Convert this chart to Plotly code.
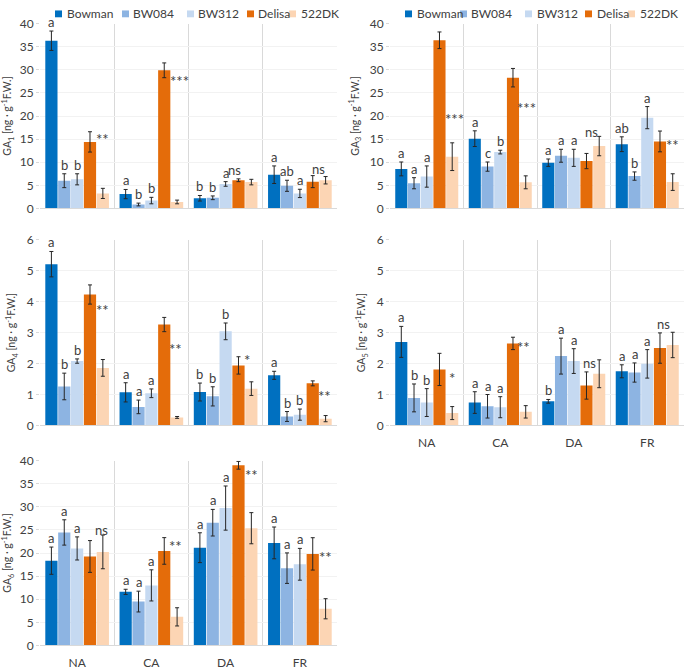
import plotly.graph_objects as go

W, H = 685, 672

categories = ["NA", "CA", "DA", "FR"]
cultivars = ["Bowman", "BW084", "BW312", "Delisa", "522DK"]
colors = ["#0070C0", "#8DB4E2", "#C5D9F1", "#E46C0A", "#FCD5B4"]

# ---- GA1 ----
GA1_mean = {"Bowman": [36.3, 3.1, 2.2, 7.3], "BW084": [6.0, 0.85, 2.3, 4.9],
            "BW312": [6.3, 1.7, 5.3, 3.25], "Delisa": [14.4, 29.9, 6.1, 5.8],
            "522DK": [3.25, 1.4, 5.7, 6.1]}
GA1_err = {"Bowman": [2.1, 1.0, 0.6, 1.9], "BW084": [1.5, 0.3, 0.4, 1.2],
           "BW312": [1.2, 0.7, 0.5, 0.9], "Delisa": [2.2, 1.6, 0.3, 1.3],
           "522DK": [1.1, 0.4, 0.6, 0.8]}
GA1_letters = [["a", "b", "b"], ["a", "b", "b"], ["b", "b", "a"], ["a", "ab", "a"]]
GA1_sig = ["**", "***", "ns", "ns"]
GA1_sig_pos = [4.0, 4.2, 2.7, 3.45]
GA1_sig_y = [15.6, 28.2, 8.05, 8.4]

# ---- GA3 ----
GA3_mean = {"Bowman": [8.55, 15.1, 9.9, 13.9], "BW084": [5.45, 9.05, 11.4, 7.0],
            "BW312": [6.9, 12.2, 10.95, 19.65], "Delisa": [36.4, 28.3, 10.25, 14.5],
            "522DK": [11.2, 5.65, 13.5, 5.7]}
GA3_err = {"Bowman": [1.5, 1.7, 0.8, 1.6], "BW084": [1.2, 1.0, 1.4, 0.9],
           "BW312": [2.3, 0.4, 1.85, 2.4], "Delisa": [1.8, 2.0, 1.65, 2.25],
           "522DK": [3.0, 1.4, 2.1, 1.8]}
GA3_letters = [["a", "a", "a"], ["a", "c", "b"], ["a", "a", "a"], ["ab", "b", "a"]]
GA3_sig = ["***", "***", "ns", "**"]
GA3_sig_pos = [4.2, 4.1, 3.4, 4.0]
GA3_sig_y = [20.1, 22.3, 16.3, 14.4]

# ---- GA4 ----
GA4_mean = {"Bowman": [5.21, 1.07, 1.08, 1.62], "BW084": [1.26, 0.6, 0.94, 0.29],
            "BW312": [2.08, 1.04, 3.04, 0.35], "Delisa": [4.23, 3.26, 1.94, 1.36],
            "522DK": [1.86, 0.26, 1.19, 0.22]}
GA4_err = {"Bowman": [0.41, 0.31, 0.29, 0.13], "BW084": [0.43, 0.22, 0.31, 0.16],
           "BW312": [0.07, 0.14, 0.27, 0.18], "Delisa": [0.31, 0.23, 0.28, 0.08],
           "522DK": [0.27, 0.03, 0.22, 0.1]}
GA4_letters = [["a", "b", "b"], ["a", "a", "a"], ["b", "b", "b"], ["a", "b", "b"]]
GA4_sig = ["**", "**", "*", "**"]
GA4_sig_pos = [4.0, 3.9, 3.7, 3.9]
GA4_sig_y = [3.83, 2.57, 2.2, 1.06]

# ---- GA5 ----
GA5_mean = {"Bowman": [2.70, 0.74, 0.78, 1.75], "BW084": [0.89, 0.62, 2.24, 1.71],
            "BW312": [0.74, 0.59, 2.08, 1.99], "Delisa": [1.81, 2.65, 1.29, 2.5],
            "522DK": [0.40, 0.44, 1.67, 2.6]}
GA5_err = {"Bowman": [0.5, 0.35, 0.06, 0.21], "BW084": [0.45, 0.38, 0.58, 0.31],
           "BW312": [0.45, 0.34, 0.4, 0.46], "Delisa": [0.52, 0.2, 0.44, 0.49],
           "522DK": [0.21, 0.2, 0.45, 0.41]}
GA5_letters = [["a", "b", "b"], ["a", "a", "a"], ["b", "a", "a"], ["a", "a", "a"]]
GA5_sig = ["*", "**", "ns", "ns"]
GA5_sig_pos = [4.0, 3.8, 3.2, 3.25]
GA5_sig_y = [1.62, 2.64, 1.99, 3.25]

# ---- GA6 ----
GA6_mean = {"Bowman": [18.35, 11.6, 21.16, 22.2], "BW084": [24.46, 9.5, 26.57, 16.73],
            "BW312": [21.0, 13.0, 29.74, 17.57], "Delisa": [19.26, 20.46, 39.0, 19.82],
            "522DK": [20.25, 6.19, 25.38, 7.94]}
GA6_err = {"Bowman": [2.95, 0.56, 3.23, 3.44], "BW084": [2.74, 2.25, 2.88, 3.3],
           "BW312": [2.5, 3.37, 4.78, 3.44], "Delisa": [3.44, 2.88, 0.84, 3.5],
           "522DK": [3.65, 1.97, 3.37, 2.18]}
GA6_letters = [["a", "a", "a"], ["a", "a", "a"], ["a", "a", "a"], ["a", "a", "a"]]
GA6_sig = ["ns", "**", "**", "**"]
GA6_sig_pos = [3.9, 3.9, 4.0, 4.0]
GA6_sig_y = [24.75, 22.1, 37.5, 19.7]

panels = [
    ("1", GA1_mean, GA1_err, GA1_letters, GA1_sig, GA1_sig_pos, GA1_sig_y, 40, 5),
    ("3", GA3_mean, GA3_err, GA3_letters, GA3_sig, GA3_sig_pos, GA3_sig_y, 40, 5),
    ("4", GA4_mean, GA4_err, GA4_letters, GA4_sig, GA4_sig_pos, GA4_sig_y, 6, 1),
    ("5", GA5_mean, GA5_err, GA5_letters, GA5_sig, GA5_sig_pos, GA5_sig_y, 6, 1),
    ("6", GA6_mean, GA6_err, GA6_letters, GA6_sig, GA6_sig_pos, GA6_sig_y, 40, 5),
]

# panel boxes in pixels: (x0, x1, y0_top, y1_bottom)
boxes = [(40, 337, 16, 205), (390, 684, 16, 205), (40, 337, 237, 427),
         (390, 684, 237, 427), (40, 337, 463, 652)]
show_xlabels = [False, False, False, True, True]

FONT = "Lato, 'Open Sans', sans-serif"
BARGAP = 0.134
GROUPGAP = 0.05

fig = go.Figure()
annotations = []
shapes = []

for p, (sub, mean, err, letters, sig, sig_pos, sig_y, ymax, dtick) in enumerate(panels):
    ax = "" if p == 0 else str(p + 1)
    for ci, cv in enumerate(cultivars):
        fig.add_trace(go.Bar(
            x=categories, y=mean[cv], name=cv,
            marker=dict(color=colors[ci], line=dict(width=0)),
            error_y=dict(type="data", array=err[cv], color="#262626",
                         thickness=1, width=2),
            xaxis="x" + ax, yaxis="y" + ax, showlegend=False,
            hoverinfo="x+y+name"))
    x0, x1, yt, yb = boxes[p]
    cat_w = (x1 - x0) / len(categories)
    bar_w = cat_w * (1 - BARGAP) / len(cultivars)
    # letters above first three bars
    for k, cat in enumerate(categories):
        for ci, lt in enumerate(letters[k]):
            cv = cultivars[ci]
            annotations.append(dict(
                x=cat, y=mean[cv][k] + err[cv][k], xref="x" + ax, yref="y" + ax,
                text=lt, showarrow=False, yanchor="bottom", yshift=-1,
                xshift=(ci - 2) * bar_w,
                font=dict(family=FONT, size=13, color="#404040")))
        s = sig[k]
        star = "*" in s
        annotations.append(dict(
            x=cat, y=sig_y[k], xref="x" + ax, yref="y" + ax, text=s,
            showarrow=False, yanchor="middle",
            yshift=(-3 if star else 1),
            xshift=(sig_pos[k] - 2) * bar_w,
            font=dict(family=FONT, size=(15 if star else 13), color="#404040")))

    xa = dict(domain=[x0 / W, x1 / W], anchor="y" + ax, type="category",
              categoryorder="array", categoryarray=categories,
              showgrid=True, gridcolor="#D9D9D9", gridwidth=1,
              tickson="boundaries", ticks="", showline=True,
              linecolor="#D9D9D9", linewidth=1,
              showticklabels=show_xlabels[p], ticklabelstandoff=6,
              tickfont=dict(family=FONT, size=12, color="#404040"),
              zeroline=False, fixedrange=True)
    ya = dict(domain=[1 - yb / H, 1 - yt / H], anchor="x" + ax,
              range=[0, ymax], tickmode="linear", tick0=0, dtick=dtick,
              showgrid=True, gridcolor="#F2F2F2", gridwidth=1,
              zeroline=False, showline=False,
              ticks="outside", ticklen=3, tickcolor="#D9D9D9",
              tickfont=dict(family=FONT, size=12, color="#404040"),
              title=dict(text="GA<sub>" + sub + "</sub> [ng · g<sup>-1</sup>F.W.]",
                         font=dict(family=FONT, size=10.5, color="#404040"),
                         standoff=8),
              fixedrange=True)
    fig.update_layout(**{"xaxis" + ax: xa, "yaxis" + ax: ya})

# legends above the two top panels (drawn as text + swatches)
legend_sets = [([55, 122, 187, 247, 289], [65, 131, 196, 256, 299]),
               ([405, 460, 525, 585, 628], [415, 469, 535, 595, 638])]
LEG_Y = 6
for sq_x, tx_x in legend_sets:
    for ci, cv in enumerate(cultivars):
        shapes.append(dict(type="rect", xref="paper", yref="paper",
                           x0=sq_x[ci] / W, x1=(sq_x[ci] + 7) / W,
                           y0=1 - (LEG_Y + 3.5) / H, y1=1 - (LEG_Y - 3.5) / H,
                           fillcolor=colors[ci], line=dict(width=0)))
        annotations.append(dict(x=tx_x[ci] / W, y=1 - LEG_Y / H, xref="paper",
                                yref="paper", text=cv, showarrow=False,
                                xanchor="left", yanchor="middle",
                                font=dict(family=FONT, size=12, color="#404040")))

fig.update_layout(
    width=W, height=H, margin=dict(l=0, r=0, t=0, b=0),
    paper_bgcolor="white", plot_bgcolor="white",
    barmode="group", bargap=BARGAP, bargroupgap=GROUPGAP,
    annotations=annotations, shapes=shapes, showlegend=False,
    font=dict(family=FONT, color="#404040"),
)

fig.write_html("out.html", config={"displayModeBar": False},
               post_script="document.body.style.margin='0';"
                           "document.body.style.overflow='hidden';")
